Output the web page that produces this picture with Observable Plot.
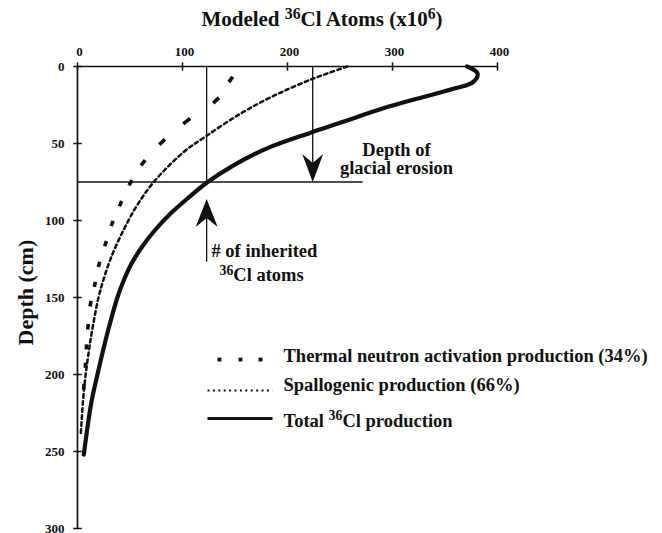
<!DOCTYPE html>
<html><head><meta charset="utf-8">
<script src="https://cdn.jsdelivr.net/npm/d3@7"></script>
<script src="https://cdn.jsdelivr.net/npm/@observablehq/plot@0.6"></script>
<style>
body{margin:0;background:#fff;}
#title{position:relative;height:30px;width:662px;font-family:"Liberation Serif","Times New Roman",serif;font-weight:bold;font-size:21px;color:#111;}
#title span{position:absolute;left:322px;top:9px;line-height:21px;transform:translateX(-50%);white-space:nowrap;}
#title sup{font-size:0.75em;vertical-align:0.42em;line-height:0;}
#chart svg{display:block;}
</style></head><body>
<div id="title"><span>Modeled <sup>36</sup>Cl Atoms (x10<sup>6</sup>)</span></div>
<div id="chart"></div>
<script>
// ---- data ----
const totalDepth = [0, 4.5, 10, 14.5, 21, 27, 36.6, 43, 53, 64, 75, 85, 95.5, 106.5, 117.5, 128, 139, 150, 173, 184, 200, 217, 232, 252];
const totalAtoms = [371, 381, 377, 358, 323, 292, 250, 222, 181, 149, 124, 106, 88.6, 73.5, 61, 51.5, 44, 38, 28.5, 24.5, 19, 13.5, 10, 6];

const spallDepth = [0, 4, 8, 14, 21, 30.7, 45, 55.6, 75, 91, 106, 124, 139, 150, 173, 184, 200, 215, 240];
const spallAtoms = [257, 240, 224, 203, 181, 155, 123, 101, 72.6, 56, 44, 32, 24.5, 20, 13.5, 11, 7.8, 5.5, 3];

const thermDepth = [8.4, 22, 35.5, 49, 62.5, 75.5, 89, 102, 115, 128.5, 141.5, 154, 169, 182, 194, 208];
const thermAtoms = [146, 132, 104, 80.6, 62.5, 50.5, 41, 33, 26.7, 20.5, 16.5, 12.4, 10, 8.5, 7.6, 6];

const xTicks = [0, 100, 200, 300, 400];
const yTicks = [0, 50, 100, 150, 200, 250, 300];

const legendLabels = ["Thermal neutron activation production (34%)", "Spallogenic production (66%)", "Total 36Cl production"];

// annotation values (data units)
const erosionDepth = 75;
const inheritedAtoms = 123;
const erosionArrowAtoms = 224;

// ---- derived tables ----
const total = totalDepth.map((d, i) => ({d, v: totalAtoms[i]}));
const spall = spallDepth.map((d, i) => ({d, v: spallAtoms[i]}));
const therm = thermDepth.map((d, i) => ({d, v: thermAtoms[i]}));
const f = 0.13;
const thermDashes = therm.map((p, i) => {
  const a = therm[Math.max(0, i - 1)], b = therm[Math.min(therm.length - 1, i + 1)];
  const span = (i === 0 || i === therm.length - 1) ? 2 : 1;
  const dv = (b.v - a.v) / 2 * span, dd = (b.d - a.d) / 2 * span;
  return {v1: p.v - f * dv, d1: p.d - f * dd, v2: p.v + f * dv, d2: p.d + f * dd};
});

const arrowDown = {draw(ctx) { ctx.moveTo(0, 0); ctx.lineTo(-10.5, -28); ctx.lineTo(0, -19); ctx.lineTo(10.5, -28); ctx.closePath(); }};
const arrowUp = {draw(ctx) { ctx.moveTo(0, 0); ctx.lineTo(-11, 28); ctx.lineTo(0, 19); ctx.lineTo(11, 28); ctx.closePath(); }};

const font = '"Liberation Serif","Times New Roman",serif';
const fs = 18.5;

const svg = Plot.plot({
  width: 662,
  height: 503,
  marginTop: 36,
  marginBottom: 5,
  marginLeft: 77,
  marginRight: 165,
  x: {domain: [0, 400]},
  y: {domain: [0, 300], reverse: true},
  style: {fontFamily: font, fontWeight: "bold", fontSize: fs + "px", background: "white", color: "#111", overflow: "visible"},
  marks: [
    // axes
    Plot.axisX(xTicks, {anchor: "top", tickSize: 0, tickPadding: 11, dx: 2, fontSize: 13, label: null}),
    Plot.axisY(yTicks, {anchor: "left", tickSize: 0, tickPadding: 13, fontSize: 13, label: null}),
    Plot.ruleY([0], {x1: 0, x2: 400, strokeWidth: 1.7, stroke: "#111"}),
    Plot.ruleX([0], {y1: 0, y2: 300, strokeWidth: 1.7, stroke: "#111"}),
    Plot.link(xTicks, {x1: d => d, x2: d => d, y1: -2.7, y2: 2.7, strokeWidth: 1.5, stroke: "#111"}),
    Plot.link(yTicks, {y1: d => d, y2: d => d, x1: -4, x2: 4, strokeWidth: 1.5, stroke: "#111"}),
    Plot.text(["Depth (cm)"], {text: d => d, frameAnchor: "left", textAnchor: "middle", y: 146.8, dx: -52, rotate: -90, fontSize: 22}),
    // annotation lines
    Plot.ruleY([erosionDepth], {x1: 0, x2: 272, strokeWidth: 1.6, stroke: "#111"}),
    Plot.ruleX([inheritedAtoms], {y1: 0, y2: erosionDepth, strokeWidth: 1.3, stroke: "#111"}),
    Plot.ruleX([erosionArrowAtoms], {y1: 0, y2: erosionDepth - 8, strokeWidth: 1.3, stroke: "#111"}),
    Plot.dot([erosionArrowAtoms], {x: d => d, y: erosionDepth, symbol: arrowDown, fill: "#111", stroke: "none"}),
    Plot.ruleX([inheritedAtoms], {y1: 92, y2: 127, strokeWidth: 1.3, stroke: "#111"}),
    Plot.dot([inheritedAtoms], {x: d => d, y: 86, symbol: arrowUp, fill: "#111", stroke: "none"}),
    // curves
    Plot.line(spall, {x: "v", y: "d", curve: "catmull-rom", stroke: "#111", strokeWidth: 2.5, strokeDasharray: "3.6,3.4"}),
    Plot.link(thermDashes, {x1: "v1", y1: "d1", x2: "v2", y2: "d2", stroke: "#111", strokeWidth: 3.6}),
    Plot.line(total, {x: "v", y: "d", curve: "catmull-rom", stroke: "#111", strokeWidth: 4.2}),
    // annotation text
    Plot.text(["Depth of"], {text: d => d, x: 303.8, y: 58.4, lineAnchor: "bottom", textAnchor: "middle"}),
    Plot.text(["glacial erosion"], {text: d => d, x: 303.8, y: 70.1, lineAnchor: "bottom", textAnchor: "middle"}),
    Plot.text(["# of inherited"], {text: d => d, x: 127.6, y: 124, lineAnchor: "bottom", textAnchor: "start"}),
    Plot.text(["36Cl atoms"], {text: d => d, x: 135.2, y: 139.3, lineAnchor: "bottom", textAnchor: "start"}),
    // legend
    Plot.dot([135.2, 155.2, 174.3], {x: d => d, y: 190.3, symbol: "square", r: 2.2, fill: "#111", stroke: "none"}),
    Plot.link([0], {x1: 123.8, x2: 185.7, y1: 210.4, y2: 210.4, stroke: "#111", strokeWidth: 2.2, strokeDasharray: "2,3.4"}),
    Plot.link([0], {x1: 123.8, x2: 185.7, y1: 228.6, y2: 228.6, stroke: "#111", strokeWidth: 3}),
    Plot.text(legendLabels, {text: d => d, x: 196.2, y: (d, i) => [192.2, 210.8, 233.8][i], lineAnchor: "bottom", textAnchor: "start"})
  ]
});

// superscript "36" in "36Cl"
d3.select(svg).selectAll("text").each(function () {
  const s = this.textContent;
  if (this.children.length || !s.includes("36Cl")) return;
  const k = s.indexOf("36Cl");
  const pre = s.slice(0, k), post = s.slice(k + 2);
  const t = d3.select(this);
  t.text(null);
  if (pre) t.append("tspan").text(pre);
  t.append("tspan").attr("font-size", "0.75em").attr("dy", -6.5).text("36");
  t.append("tspan").attr("dy", 6.5).text(post);
});

document.getElementById("chart").appendChild(svg);
</script>
</body></html>
